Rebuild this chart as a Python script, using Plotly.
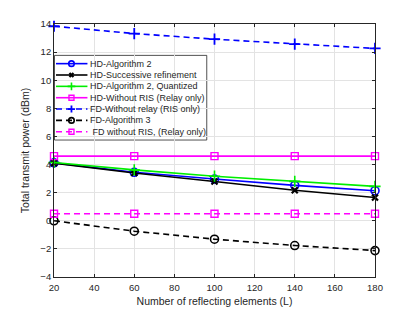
import plotly.graph_objects as go

# ---------------- data ----------------
L = [20, 60, 100, 140, 180]
hd_alg2 = [4.12, 3.45, 2.97, 2.52, 2.14]
hd_succ = [4.10, 3.40, 2.79, 2.17, 1.66]
hd_quant = [4.15, 3.62, 3.17, 2.80, 2.45]
hd_noris = [4.6, 4.6, 4.6, 4.6, 4.6]
fd_norelay = [13.84, 13.32, 12.92, 12.57, 12.26]
fd_alg3 = [0.0, -0.74, -1.31, -1.76, -2.12]
fd_noris = [0.5, 0.5, 0.5, 0.5, 0.5]

names = [
    "HD-Algorithm 2",
    "HD-Successive refinement",
    "HD-Algorithm 2, Quantized",
    "HD-Without RIS (Relay only)",
    "FD-Without relay (RIS only)",
    "FD-Algorithm 3",
    " FD without RIS, (Relay only)",
]
x_ticks = [20, 40, 60, 80, 100, 120, 140, 160, 180]
y_ticks = [-4, -2, 0, 2, 4, 6, 8, 10, 12, 14]

# ---------------- styles ----------------
DASH = "6px,4px"
styles = [
    dict(color="#0000ff", dash="solid", symbol="circle-open", size=8, lsize=5.5, mlw=1.6),
    dict(color="#000000", dash="solid", symbol="x-thin", size=6, lsize=4, mlw=2.2),
    dict(color="#00ee00", dash="solid", symbol="cross-thin", size=8, lsize=5.5, mlw=1.6),
    dict(color="#ff00ff", dash="solid", symbol="square-open", size=7, lsize=5, mlw=1.4),
    dict(color="#0000ff", dash=DASH, symbol="cross-thin", size=8, lsize=5, mlw=1.8),
    dict(color="#000000", dash=DASH, symbol="circle-open", size=8, lsize=5.5, mlw=1.6),
    dict(color="#ff00ff", dash=DASH, symbol="square-open", size=7, lsize=5, mlw=1.4),
]
series = [hd_alg2, hd_succ, hd_quant, hd_noris, fd_norelay, fd_alg3, fd_noris]

fig = go.Figure()
for ys, st, nm in zip(series, styles, names):
    fig.add_trace(go.Scatter(
        x=L, y=ys, mode="lines+markers", name=nm, showlegend=False,
        line=dict(color=st["color"], width=1.6, dash=st["dash"]),
        marker=dict(symbol=st["symbol"], size=st["size"], color=st["color"],
                    line=dict(color=st["color"], width=st["mlw"])),
        cliponaxis=False,
    ))

# ---------------- geometry (page body has an 8px default margin) ----------------
OFF = 8
PAGE_W, PAGE_H = 415, 312
PL, PR, PT, PB = 54, 375.5, 23.5, 277.5          # plot box in page pixels
W, H = PAGE_W - OFF, PAGE_H - OFF
ml, mt = PL - OFF, PT - OFF
mr, mb = PAGE_W - PR, PAGE_H - PB
pw, ph = PR - PL, PB - PT

def px(x):
    return (x - PL) / pw

def py(y):
    return (PB - y) / ph

# ---------------- manual legend ----------------
lg_x0, lg_x1, lg_y0, lg_y1 = 54.5, 207, 55, 140
row0, row_step = 63.3, 11.4
for i, (st, nm) in enumerate(zip(styles, names)):
    ry = PB - (row0 + i * row_step)
    fig.add_trace(go.Scatter(
        x=[56 - PL, 87.5 - PL], y=[ry, ry], mode="lines", xaxis="x2", yaxis="y2",
        showlegend=False, hoverinfo="skip",
        line=dict(color=st["color"], width=1.6, dash=st["dash"]),
    ))
    fig.add_trace(go.Scatter(
        x=[71.5 - PL], y=[ry], mode="markers", xaxis="x2", yaxis="y2",
        showlegend=False, hoverinfo="skip",
        marker=dict(symbol=st["symbol"], size=st["lsize"], color=st["color"],
                    line=dict(color=st["color"], width=st["mlw"])),
    ))
    fig.add_annotation(
        x=px(88), y=ry / ph, xref="paper", yref="paper",
        text=nm, showarrow=False, xanchor="left", yanchor="middle",
        font=dict(family="Liberation Sans, Arial", size=9, color="#262626"),
    )

fig.add_shape(type="rect", xref="paper", yref="paper",
              x0=px(lg_x0), x1=px(lg_x1), y0=py(lg_y1), y1=py(lg_y0),
              line=dict(color="#262626", width=0.8), fillcolor="white",
              layer="below")

axis_common = dict(
    showline=True, linecolor="#262626", linewidth=0.8, mirror="ticks",
    ticks="inside", ticklen=3, tickcolor="#262626", tickwidth=0.8,
    showgrid=True, gridcolor="#e3e3e3", gridwidth=0.8, zeroline=False,
    automargin=False,
    tickfont=dict(family="Liberation Sans, Arial", size=9.5, color="#262626"),
)

fig.update_layout(
    width=W, height=H,
    margin=dict(l=ml, r=mr, t=mt, b=mb, pad=0, autoexpand=False),
    paper_bgcolor="white", plot_bgcolor="white",
    showlegend=False,
    xaxis=dict(range=[20, 180], tickvals=x_ticks, ticklabelstandoff=2,
               title=dict(text="Number of reflecting elements (L)", standoff=5,
                          font=dict(family="Liberation Sans, Arial", size=10.5, color="#262626")),
               **axis_common),
    yaxis=dict(range=[-4, 14], tickvals=y_ticks,
               title=dict(text="Total transmit power (dBm)", standoff=8,
                          font=dict(family="Liberation Sans, Arial", size=10.5, color="#262626")),
               **axis_common),
    xaxis2=dict(range=[0, pw], overlaying="x", visible=False, fixedrange=True),
    yaxis2=dict(range=[0, ph], overlaying="y", visible=False, fixedrange=True),
)

fig.write_html("out.html")
